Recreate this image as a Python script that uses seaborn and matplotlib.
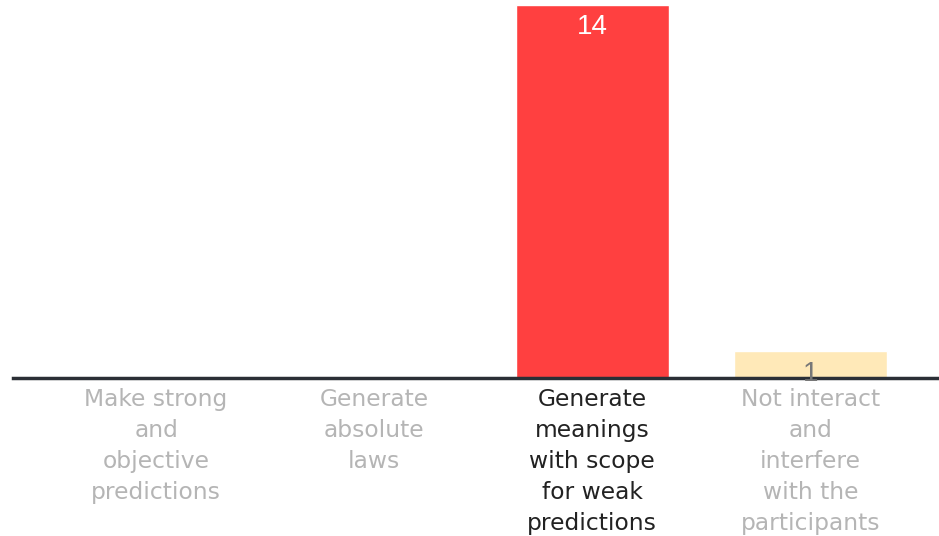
import matplotlib
matplotlib.use("Agg")
import matplotlib.pyplot as plt
import seaborn as sns
import pandas as pd

categories = ["Make strong\nand\nobjective\npredictions",
              "Generate\nabsolute\nlaws",
              "Generate\nmeanings\nwith scope\nfor weak\npredictions",
              "Not interact\nand\ninterfere\nwith the\nparticipants"]
values = [0, 0, 14, 1]
bar_colors = ["#FFE9B8", "#FFE9B8", "#FF4040", "#FFE9B8"]
tick_colors = ["#b5b5b5", "#b5b5b5", "#222222", "#b5b5b5"]

sns.set_theme(style="white")
plt.rcParams['font.family'] = ['DejaVu Sans']

df = pd.DataFrame({"cat": categories, "val": values})
fig = plt.figure(figsize=(9.39, 5.36), dpi=100)
ax = fig.add_axes([13/939, (536-378)/536, 926/939, (378-5)/536])
sns.barplot(data=df, x="cat", y="val", hue="cat", palette=bar_colors,
            width=0.7, legend=False, ax=ax, saturation=1)
ax.set_xlim(-0.656, 3.59)
ax.set_ylim(0, 14)
for s in ["top", "right", "left"]:
    ax.spines[s].set_visible(False)
ax.spines["bottom"].set_color("#2b2f36")
ax.spines["bottom"].set_linewidth(2.5)
ax.set_yticks([])
ax.set_xlabel("")
ax.set_ylabel("")
ax.tick_params(axis="x", length=0, pad=7)
ax.set_xticks(range(len(categories)))
ax.set_xticklabels(categories, fontsize=16.8, linespacing=1.45)
for lab, c in zip(ax.get_xticklabels(), tick_colors):
    lab.set_color(c)
    lab.set_horizontalalignment("center")
    lab.set_multialignment("center")

# value labels
ax.text(2, 14 - 0.35, "14", ha="center", va="top", color="white",
        fontsize=20, family="Liberation Sans")
ax.text(3, 0.15, "1", ha="center", va="center", color="#777777",
        fontsize=20, family="Liberation Sans")

fig.savefig("out.png", dpi=100)
